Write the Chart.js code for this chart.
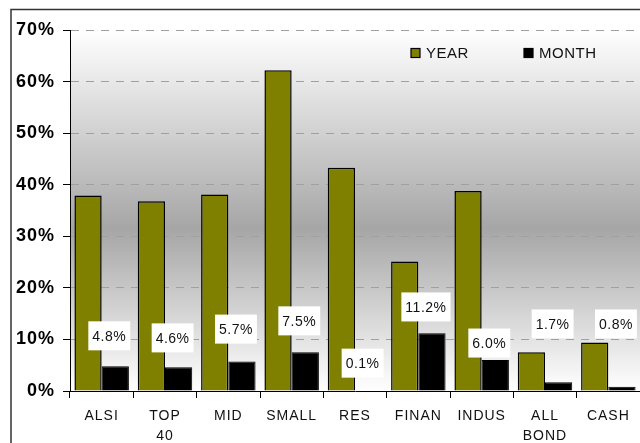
<!DOCTYPE html>
<html>
<head>
<meta charset="utf-8">
<script src="https://cdn.jsdelivr.net/npm/chart.js@4.4.1/dist/chart.umd.min.js"></script>
<style>
  html, body { margin: 0; padding: 0; background: #fff; overflow: hidden; }
</style>
</head>
<body>
<canvas id="chart" width="640" height="443"></canvas>
<script>
// data
const categories = ['ALSI', ['TOP', '40'], 'MID', 'SMALL', 'RES', 'FINAN', 'INDUS', ['ALL', 'BOND'], 'CASH'];
const yearValues = [37.9, 36.8, 38.1, 62.2, 43.3, 25.1, 38.8, 7.5, 9.4];
const monthValues = [4.8, 4.6, 5.7, 7.5, 0.1, 11.2, 6.0, 1.7, 0.8];
// the month labels were moved by hand in the original, this is the level (in %) where each one sits
const monthLabelLevels = [10.7, 10.3, 12.0, 13.6, 5.4, 16.3, 9.3, 13.0, 13.0];
const yTickLabels = ['0%', '10%', '20%', '30%', '40%', '50%', '60%', '70%'];
const seriesNames = ['YEAR', 'MONTH'];

const FONT = '"Liberation Sans", Arial, sans-serif';

const backdrop = {
  id: 'backdrop',
  beforeDraw(chart) {
    const { ctx, chartArea: a } = chart;
    ctx.save();
    ctx.strokeStyle = '#333';
    ctx.lineWidth = 1.5;
    ctx.beginPath();
    ctx.moveTo(11, 443);
    ctx.lineTo(11, 9.5);
    ctx.lineTo(640, 9.5);
    ctx.stroke();
    const g = ctx.createLinearGradient(0, a.top, 0, a.bottom);
    g.addColorStop(0, '#ffffff');
    g.addColorStop(0.55, '#a6a6a6');
    g.addColorStop(1, '#ffffff');
    ctx.fillStyle = g;
    ctx.fillRect(a.left, a.top, a.right - a.left, a.bottom - a.top);
    ctx.restore();
    ctx.letterSpacing = '1px';
  },
  afterDraw(chart) {
    chart.ctx.letterSpacing = '0px';
  }
};

const monthLabels = {
  id: 'monthLabels',
  afterDatasetsDraw(chart) {
    const { ctx } = chart;
    const y = chart.scales.y;
    const meta = chart.getDatasetMeta(1);
    ctx.save();
    ctx.letterSpacing = '0.5px';
    ctx.font = '14px ' + FONT;
    ctx.textAlign = 'center';
    ctx.textBaseline = 'middle';
    meta.data.forEach((bar, i) => {
      const text = monthValues[i].toFixed(1) + '%';
      const cx = bar.x - 6;
      const cy = y.getPixelForValue(monthLabelLevels[i]);
      const w = ctx.measureText(text).width + 8;
      const h = 29;
      ctx.fillStyle = '#fff';
      ctx.fillRect(cx - w / 2, cy - h / 2, w, h);
      ctx.fillStyle = '#111';
      ctx.fillText(text, cx, cy + 1);
    });
    ctx.restore();
  }
};

const legendBoxes = {
  id: 'legendBoxes',
  afterDraw(chart) {
    const { ctx } = chart;
    const spots = [411, 524];
    ctx.save();
    ctx.letterSpacing = '0.5px';
    ctx.font = '15px ' + FONT;
    ctx.textBaseline = 'middle';
    chart.data.datasets.forEach((ds, i) => {
      const x = spots[i];
      const yc = 53;
      ctx.fillStyle = ds.backgroundColor;
      ctx.fillRect(x, yc - 4.5, 9, 9);
      ctx.strokeStyle = '#000';
      ctx.lineWidth = 1.2;
      ctx.strokeRect(x, yc - 4.5, 9, 9);
      ctx.fillStyle = '#111';
      ctx.fillText(ds.label, x + 15, yc + 1);
    });
    ctx.restore();
  }
};

const ctx = document.getElementById('chart').getContext('2d');
new Chart(ctx, {
  type: 'bar',
  data: {
    labels: categories,
    datasets: [
      {
        label: seriesNames[0],
        data: yearValues,
        backgroundColor: '#808000',
        borderColor: '#000',
        borderWidth: 1.5
      },
      {
        label: seriesNames[1],
        data: monthValues,
        backgroundColor: '#000000',
        borderColor: '#000',
        borderWidth: 1
      }
    ]
  },
  options: {
    responsive: false,
    animation: false,
    layout: { padding: { top: 30, right: 0, bottom: 0, left: 0 } },
    datasets: {
      bar: { categoryPercentage: 0.86, barPercentage: 1 }
    },
    scales: {
      x: {
        grid: { display: true, drawOnChartArea: false, drawTicks: true, tickLength: 7, color: '#000', offset: true },
        border: { color: '#000', width: 1 },
        ticks: {
          font: { size: 14, family: FONT, lineHeight: 1.43 },
          color: '#111',
          padding: 8,
          maxRotation: 0,
          autoSkip: false
        },
        afterFit: (s) => { s.height = 52; }
      },
      y: {
        min: 0,
        max: 70,
        ticks: {
          stepSize: 10,
          callback: (v, i) => yTickLabels[i],
          font: { size: 18, weight: 'bold', family: FONT },
          color: '#000',
          padding: 8
        },
        grid: {
          color: (c) => (c.tick && c.tick.value === 0 ? 'rgba(0,0,0,0)' : '#a0a0a0'),
          tickColor: '#000',
          tickLength: 7,
          tickBorderDash: []
        },
        border: { color: '#000', width: 1, dash: [8, 7] },
        afterFit: (s) => { s.width = 70; }
      }
    },
    plugins: {
      legend: { display: false },
      tooltip: { enabled: false }
    }
  },
  plugins: [backdrop, monthLabels, legendBoxes]
});
</script>
</body>
</html>
